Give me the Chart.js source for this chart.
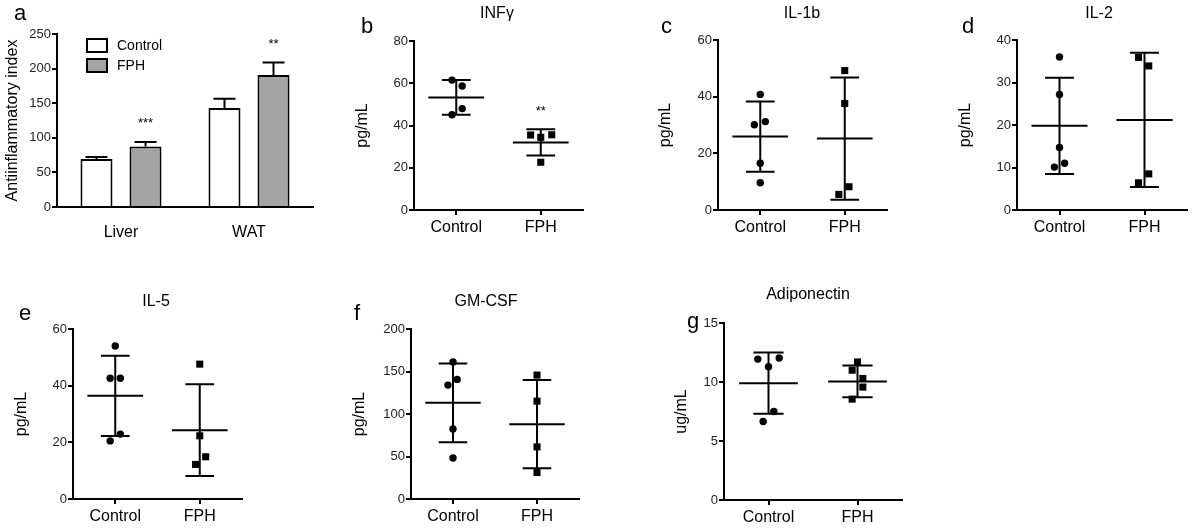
<!DOCTYPE html>
<html><head><meta charset="utf-8">
<script src="https://cdn.jsdelivr.net/npm/chart.js@4.4.0/dist/chart.umd.min.js"></script>
<style>
html,body{margin:0;padding:0;background:#fff;width:1200px;height:532px;overflow:hidden}
#wrap{position:relative;width:1200px;height:532px}
#wrap canvas{position:absolute;left:0;top:0}
</style></head><body><div id="wrap"></div>
<script>
// ---------------- DATA ----------------
const groups = ['Control', 'FPH'];
const tissues = ['Liver', 'WAT'];

// a: Antiinflammatory index (bars, mean + SEM)
const aiControl = [69.5, 142.9];
const aiFPH = [87.3, 190.7];
const aiControlErr = [2.9, 13.5];
const aiFPHErr = [6.8, 18.2];
const aiFPHStars = ['***', '**'];

// b: INFγ
const infgControl = [61.5, 58.7, 48.0, 45.1];
const infgControlJitter = [-0.05, 0.07, 0.07, -0.05];
const infgFPH = [35.5, 34.4, 35.6, 22.6];
const infgFPHJitter = [-0.12, 0, 0.13, 0];
const infgMean = [53.3, 32.0];
const infgSD = [8.2, 6.2];
const infgStars = ['', '**'];

// c: IL-1b
const il1bControl = [40.8, 30.1, 31.2, 16.5, 9.6];
const il1bControlJitter = [0, -0.07, 0.06, 0, 0];
const il1bFPH = [49.2, 37.6, 8.2, 5.5];
const il1bFPHJitter = [0, 0, 0.05, -0.07];
const il1bMean = [25.9, 25.2];
const il1bSD = [12.4, 21.6];

// d: IL-2
const il2Control = [36.0, 27.2, 14.7, 10.1, 11.0];
const il2ControlJitter = [0, 0, 0, -0.06, 0.06];
const il2FPH = [35.9, 33.9, 8.5, 6.4];
const il2FPHJitter = [-0.07, 0.05, 0.05, -0.07];
const il2Mean = [19.8, 21.2];
const il2SD = [11.3, 15.8];

// e: IL-5
const il5Control = [54.0, 42.6, 42.6, 22.9, 20.5];
const il5ControlJitter = [0, -0.06, 0.06, 0.06, -0.06];
const il5FPH = [47.6, 22.3, 14.9, 12.2];
const il5FPHJitter = [0, 0, 0.07, -0.05];
const il5Mean = [36.4, 24.3];
const il5SD = [14.2, 16.2];

// f: GM-CSF
const gmcsfControl = [161.1, 134.0, 140.7, 82.5, 48.3];
const gmcsfControlJitter = [0, -0.06, 0.05, 0, 0];
const gmcsfFPH = [145.8, 115.1, 61.3, 31.1];
const gmcsfFPHJitter = [0, 0, 0, 0];
const gmcsfMean = [113.1, 88.0];
const gmcsfSD = [46.4, 51.9];

// g: Adiponectin
const adipoControl = [11.94, 12.03, 11.3, 7.5, 6.65];
const adipoControlJitter = [-0.12, 0.12, 0, 0.06, -0.06];
const adipoFPH = [11.7, 11.0, 10.3, 9.57, 8.55];
const adipoFPHJitter = [0, -0.06, 0.06, 0.06, -0.06];
const adipoMean = [9.9, 10.05];
const adipoSD = [2.6, 1.35];

// ---------------- STYLE / LAYOUT ----------------
const FONT = "'Liberation Sans', Arial, Helvetica, sans-serif";
const XAXIS_H = 40;
const YTITLE_HALF = 9.6; // half line height of 16px title
const MEAN_HALF = 0.33, CAP_HALF = 0.17;

const LAYOUT = {
  a: {l:57,  t:34,  r:313,  b:207, yTitleX:13,    letter:[14,20]},
  b: {l:414, t:41,  r:583,  b:210, yTitleX:362.5, letter:[361,33], title:[497,14]},
  c: {l:718, t:40,  r:887,  b:210, yTitleX:666,   letter:[661,33], title:[802,14]},
  d: {l:1017,t:40,  r:1187, b:210, yTitleX:966,   letter:[962,33], title:[1099,14]},
  e: {l:73,  t:329, r:242,  b:499, yTitleX:21.5,  letter:[19,320], title:[156,302]},
  f: {l:411, t:329, r:579,  b:499, yTitleX:360,   letter:[354,320], title:[486,302]},
  g: {l:724, t:323, r:902,  b:500, yTitleX:681.5, letter:[687,328], title:[808,295]}
};

// ---------------- PLUGINS ----------------
const textPlugin = {
  id: 'panelText',
  afterDraw(chart, args, opts) {
    const ctx = chart.ctx;
    (opts.items || []).forEach(it => {
      ctx.save();
      ctx.font = it.font;
      ctx.fillStyle = '#000';
      ctx.textAlign = it.align || 'center';
      ctx.textBaseline = it.baseline || 'middle';
      ctx.fillText(it.text, it.x, it.y);
      ctx.restore();
    });
  }
};

const statStars = {
  id: 'statStars',
  afterDatasetsDraw(chart, args, opts) {
    if (!opts.stars) return;
    const ctx = chart.ctx, xs = chart.scales.x, ys = chart.scales.y;
    opts.stars.forEach((s, i) => {
      if (!s) return;
      const y = ys.getPixelForValue(opts.mean[i] + opts.sd[i]) - 22 + 7.5;
      ctx.save();
      ctx.font = '13px ' + FONT;
      ctx.fillStyle = '#000';
      ctx.textAlign = 'center';
      ctx.textBaseline = 'alphabetic';
      ctx.fillText(s, xs.getPixelForValue(i + 1), y);
      ctx.restore();
    });
  }
};

const barErrors = {
  id: 'barErrors',
  afterDatasetsDraw(chart, args, opts) {
    if (!opts.errors) return;
    const ctx = chart.ctx, ys = chart.scales.y;
    chart.data.datasets.forEach((ds, di) => {
      const meta = chart.getDatasetMeta(di);
      meta.data.forEach((bar, i) => {
        const top = ys.getPixelForValue(ds.data[i] + opts.errors[di][i]);
        ctx.save();
        ctx.strokeStyle = '#000';
        ctx.lineWidth = 2;
        ctx.beginPath();
        ctx.moveTo(bar.x, bar.y);
        ctx.lineTo(bar.x, top);
        ctx.moveTo(bar.x - 11, top);
        ctx.lineTo(bar.x + 11, top);
        ctx.stroke();
        const st = opts.stars[di] && opts.stars[di][i];
        if (st) {
          ctx.font = '13px ' + FONT;
          ctx.fillStyle = '#000';
          ctx.textAlign = 'center';
          ctx.textBaseline = 'alphabetic';
          ctx.fillText(st, bar.x, top - 22 + 7.5);
        }
        ctx.restore();
      });
    });
  }
};

const boxLegend = {
  id: 'boxLegend',
  afterDraw(chart, args, opts) {
    if (!opts.display) return;
    const ctx = chart.ctx;
    chart.data.datasets.forEach((ds, i) => {
      const y = opts.y + i * opts.rowGap;
      ctx.save();
      ctx.fillStyle = ds.backgroundColor;
      ctx.fillRect(opts.x, y, 20, 13);
      ctx.strokeStyle = '#000';
      ctx.lineWidth = 2;
      ctx.strokeRect(opts.x, y, 20, 13);
      ctx.font = '14px ' + FONT;
      ctx.fillStyle = '#000';
      ctx.textAlign = 'left';
      ctx.textBaseline = 'middle';
      ctx.fillText(ds.label, opts.x + 30, y + 7);
      ctx.restore();
    });
  }
};

Chart.register(textPlugin, statStars, barErrors, boxLegend);

// ---------------- HELPERS ----------------
function newCanvas() {
  const c = document.createElement('canvas');
  c.width = 1200; c.height = 532;
  document.getElementById('wrap').appendChild(c);
  return c.getContext('2d');
}

function yAxis(L, max, step, title) {
  return {
    min: 0, max: max,
    ticks: { stepSize: step, font: { size: 13, family: FONT }, color: '#222', padding: 1 },
    grid: { display: true, drawOnChartArea: false, drawTicks: true, tickLength: 5, color: '#000', lineWidth: 2 },
    border: { display: true, color: '#000', width: 2 },
    title: { display: true, text: title, font: { size: 16, family: FONT }, color: '#000', padding: 0 },
    afterFit: s => { s.width = L.l - (L.yTitleX - YTITLE_HALF); }
  };
}

function layoutOf(L) {
  return { padding: { top: L.t, left: L.yTitleX - YTITLE_HALF, right: 1200 - L.r, bottom: 532 - L.b - XAXIS_H } };
}

function textItems(key, L, title) {
  const items = [{ text: key, x: L.letter[0], y: L.letter[1], font: '22px ' + FONT, align: 'left', baseline: 'alphabetic' }];
  if (title) items.push({ text: title, x: L.title[0], y: L.title[1], font: '16px ' + FONT });
  return items;
}

function meanSdData(mean, sd) {
  const out = [];
  mean.forEach((m, i) => {
    const g = i + 1, s = sd[i];
    out.push({x: g - MEAN_HALF, y: m}, {x: g + MEAN_HALF, y: m}, {x: g, y: null});
    out.push({x: g - CAP_HALF, y: m + s}, {x: g + CAP_HALF, y: m + s}, {x: g, y: null});
    out.push({x: g - CAP_HALF, y: m - s}, {x: g + CAP_HALF, y: m - s}, {x: g, y: null});
    out.push({x: g, y: m - s}, {x: g, y: m + s}, {x: g, y: null});
  });
  return out;
}

function points(vals, jit, g) {
  return vals.map((v, i) => ({ x: g + jit[i], y: v }));
}

function scatterPanel(key, p) {
  const L = LAYOUT[key];
  new Chart(newCanvas(), {
    type: 'scatter',
    data: {
      datasets: [
        { type: 'line', label: 'mean ± SD', data: meanSdData(p.mean, p.sd), borderColor: '#000', borderWidth: 2,
          pointRadius: 0, spanGaps: false, fill: false, tension: 0, borderCapStyle: 'butt' },
        { label: groups[0], data: points(p.control, p.controlJitter, 1), pointStyle: 'circle', pointRadius: 3.7,
          backgroundColor: '#000', borderColor: '#000', borderWidth: 0 },
        { label: groups[1], data: points(p.fph, p.fphJitter, 2), pointStyle: 'rect', pointRadius: 5,
          backgroundColor: '#000', borderColor: '#000', borderWidth: 0 }
      ]
    },
    options: {
      responsive: false, animation: false, devicePixelRatio: 1, events: [],
      layout: layoutOf(L),
      scales: {
        x: {
          type: 'linear', min: 0.5, max: 2.5,
          afterBuildTicks: s => { s.ticks = groups.map((g, i) => ({ value: i + 1 })); },
          ticks: { callback: v => groups[v - 1], font: { size: 16, family: FONT }, color: '#000', padding: 3, autoSkip: false, maxRotation: 0 },
          grid: { display: true, drawOnChartArea: false, drawTicks: true, tickLength: 5, color: '#000', lineWidth: 2 },
          border: { display: true, color: '#000', width: 2 },
          afterFit: s => { s.height = XAXIS_H; }
        },
        y: yAxis(L, p.max, p.step, p.yTitle)
      },
      plugins: {
        legend: { display: false }, tooltip: { enabled: false },
        panelText: { items: textItems(key, L, p.title) },
        statStars: { stars: p.stars, mean: p.mean, sd: p.sd }
      }
    }
  });
}

// ---------------- PANEL a ----------------
(function () {
  const L = LAYOUT.a;
  new Chart(newCanvas(), {
    type: 'bar',
    data: {
      labels: tissues,
      datasets: [
        { label: groups[0], data: aiControl, backgroundColor: '#ffffff', borderColor: '#000', borderWidth: 2,
          categoryPercentage: 0.766, barPercentage: 0.653 },
        { label: groups[1], data: aiFPH, backgroundColor: '#a4a4a4', borderColor: '#000', borderWidth: 2,
          categoryPercentage: 0.766, barPercentage: 0.653 }
      ]
    },
    options: {
      responsive: false, animation: false, devicePixelRatio: 1, events: [],
      layout: layoutOf(L),
      scales: {
        x: {
          ticks: { font: { size: 16, family: FONT }, color: '#000', padding: 8 },
          grid: { display: false },
          border: { display: true, color: '#000', width: 2 },
          afterFit: s => { s.height = XAXIS_H; }
        },
        y: yAxis(L, 250, 50, 'Antiinflammatory index')
      },
      plugins: {
        legend: { display: false }, tooltip: { enabled: false },
        panelText: { items: textItems('a', L) },
        barErrors: { errors: [aiControlErr, aiFPHErr], stars: [null, aiFPHStars] },
        boxLegend: { display: true, x: 87, y: 39, rowGap: 20 }
      }
    }
  });
})();

scatterPanel('b', { title: 'INFγ', yTitle: 'pg/mL', max: 80, step: 20, control: infgControl, controlJitter: infgControlJitter,
  fph: infgFPH, fphJitter: infgFPHJitter, mean: infgMean, sd: infgSD, stars: infgStars });
scatterPanel('c', { title: 'IL-1b', yTitle: 'pg/mL', max: 60, step: 20, control: il1bControl, controlJitter: il1bControlJitter,
  fph: il1bFPH, fphJitter: il1bFPHJitter, mean: il1bMean, sd: il1bSD });
scatterPanel('d', { title: 'IL-2', yTitle: 'pg/mL', max: 40, step: 10, control: il2Control, controlJitter: il2ControlJitter,
  fph: il2FPH, fphJitter: il2FPHJitter, mean: il2Mean, sd: il2SD });
scatterPanel('e', { title: 'IL-5', yTitle: 'pg/mL', max: 60, step: 20, control: il5Control, controlJitter: il5ControlJitter,
  fph: il5FPH, fphJitter: il5FPHJitter, mean: il5Mean, sd: il5SD });
scatterPanel('f', { title: 'GM-CSF', yTitle: 'pg/mL', max: 200, step: 50, control: gmcsfControl, controlJitter: gmcsfControlJitter,
  fph: gmcsfFPH, fphJitter: gmcsfFPHJitter, mean: gmcsfMean, sd: gmcsfSD });
scatterPanel('g', { title: 'Adiponectin', yTitle: 'ug/mL', max: 15, step: 5, control: adipoControl, controlJitter: adipoControlJitter,
  fph: adipoFPH, fphJitter: adipoFPHJitter, mean: adipoMean, sd: adipoSD });
</script>
</body></html>
